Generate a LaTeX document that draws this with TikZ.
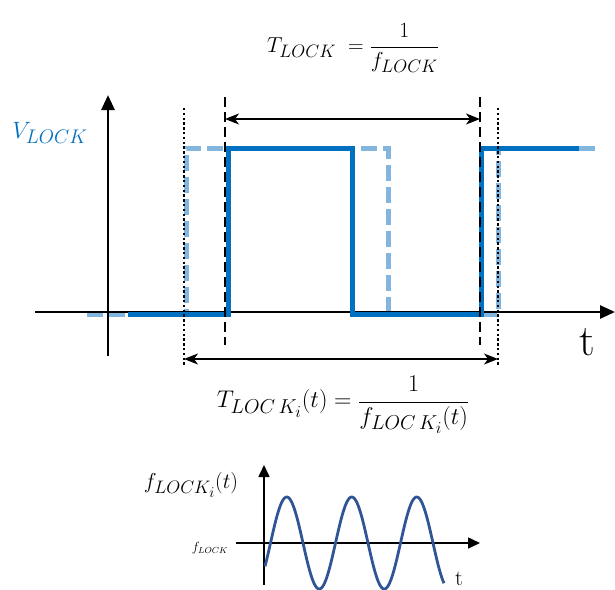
\documentclass[tikz,border=0pt]{standalone}
\usepackage{graphicx}
\usetikzlibrary{arrows.meta}
\definecolor{vblue}{HTML}{0070C0}
\definecolor{lblue}{HTML}{82B6DF}
\definecolor{sblue}{HTML}{2F5597}
\begin{document}
\begin{tikzpicture}[x=1pt,y=-1pt,
  axis/.style={line width=2.8pt,-{Triangle[length=15pt,width=13pt]}},
  saxis/.style={line width=1.6pt,-{Triangle[length=12pt,width=11pt]}},
  dimarrow/.style={line width=1.3pt,{Stealth[length=14pt,width=11pt,inset=4pt]}-{Stealth[length=14pt,width=11pt,inset=4pt]}},
  dashv/.style={line width=2.2pt,dash pattern=on 10pt off 5pt},
  dotv/.style={line width=2.4pt,dash pattern=on 2.4pt off 2.4pt},
  sig/.style={line width=5pt,vblue},
  sigref/.style={line width=5pt,lblue,dash pattern=on 16pt off 6pt},
  lbl/.style={inner sep=0pt}]
\useasboundingbox (0,0) rectangle (615,589);
% coordinates
\coordinate (xa0) at (35,312);
\coordinate (xa1) at (615,312);
\coordinate (ya0) at (108,356);
\coordinate (ya1) at (108,95);
\coordinate (d1t) at (184,108);
\coordinate (d1b) at (184,366);
\coordinate (d2t) at (498,108);
\coordinate (d2b) at (498,366);
\coordinate (k1t) at (225,97);
\coordinate (k1b) at (225,345);
\coordinate (k2t) at (480,97);
\coordinate (k2b) at (480,345);
\coordinate (a1l) at (225,119);
\coordinate (a1r) at (480,119);
\coordinate (a2l) at (184,359);
\coordinate (a2r) at (498,359);
% reference (light blue dashed) waveform
\draw[sigref] (87,314) -- (186,314) -- (186,148) -- (388,148) -- (388,314) -- (498,314) -- (498,148) -- (600,148);
% axes
\draw[axis] (xa0) -- (xa1);
\draw[axis] (ya0) -- (ya1);
% actual waveform
\draw[sig] (128,314) -- (228,314) -- (228,148) -- (352,148) -- (352,314) -- (481,314) -- (481,148) -- (579,148);
% vertical guide lines
\draw[dotv] (d1t) -- (d1b);
\draw[dotv] (d2t) -- (d2b);
\draw[dashv] (k1t) -- (k1b);
\draw[dashv] (k2t) -- (k2b);
% dimension arrows
\draw[dimarrow] (a1l) -- (a1r);
\draw[dimarrow] (a2l) -- (a2r);
% labels
\node[lbl,text=vblue] (vl) at (50,133) {\scalebox{0.95}{\fontsize{24.88}{30}\selectfont $V_{LOCK}$}};
\node[lbl] (tt) at (587,342) {\fontsize{44}{48}\selectfont t};
\node[lbl] (top) at (353,48) {\scalebox{0.87}{\fontsize{24.88}{30}\selectfont $\displaystyle T_{LOCK}\;=\frac{1}{f_{LOCK}}$}};
\node[lbl] (bot) at (343,405) {\scalebox{0.97}{\fontsize{24.88}{30}\selectfont $\displaystyle T_{LOC\,K_i}(t)=\frac{1}{f_{LOC\,K_i}(t)}$}};
% small plot
\coordinate (sx0) at (236,543);
\coordinate (sx1) at (480,543);
\coordinate (sy0) at (264,585);
\coordinate (sy1) at (264,465);
\draw[saxis] (sx0) -- (sx1);
\draw[saxis] (sy0) -- (sy1);
\draw[sblue,line width=2.8pt,domain=265:444,samples=200,smooth] plot (\x,{543-46*sin(5.53846*(\x-270.5))});
\node[lbl] (fl) at (191,485) {\scalebox{0.87}{\fontsize{24.88}{30}\selectfont $f_{LOCK_i}(t)$}};
\node[lbl] (fs) at (210,548) {\scalebox{1.1}{\fontsize{12}{14}\selectfont $f_{LOCK}$}};
\node[lbl,anchor=base] (ts) at (459,585) {\fontsize{22}{24}\selectfont t};
\end{tikzpicture}
\end{document}
